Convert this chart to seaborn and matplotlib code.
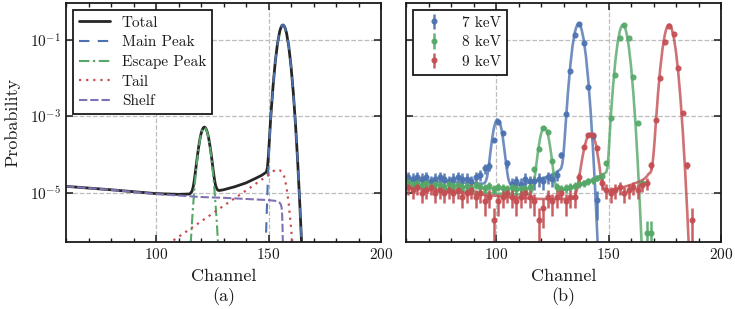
import numpy as np
import matplotlib
matplotlib.use("Agg")
import matplotlib.pyplot as plt
import seaborn as sns
from matplotlib.ticker import FixedLocator, MultipleLocator, NullLocator, LogFormatterMathtext

# ---------------- panel (a): 8 keV response model (log10 of probability) ----------------
total_ch = [60, 80, 100, 110, 115, 116, 116.5, 117, 117.5, 118, 118.5, 119, 119.5, 120, 120.5, 121,
            121.5, 122, 122.5, 123, 123.5, 124, 124.5, 125, 125.5, 126, 126.5, 127, 127.5, 128, 130,
            135, 140, 145, 147, 148, 149, 149.5, 150, 150.5, 151, 152, 153, 154, 155, 155.5, 156,
            156.5, 157, 157.5, 158, 159, 160, 161, 162, 163, 164, 164.5, 165, 166]
total_lg = [-4.83, -4.92, -5.02, -5.04, -5.03, -4.96, -4.85, -4.68, -4.46, -4.22, -3.99, -3.78, -3.60,
            -3.46, -3.36, -3.30, -3.28, -3.30, -3.36, -3.46, -3.60, -3.78, -3.98, -4.21, -4.45, -4.66,
            -4.81, -4.89, -4.93, -4.94, -4.92, -4.84, -4.74, -4.60, -4.54, -4.50, -4.46, -4.35, -4.00,
            -3.50, -3.01, -2.22, -1.57, -1.09, -0.77, -0.68, -0.62, -0.61, -0.64, -0.71, -0.82, -1.17,
            -1.69, -2.37, -3.21, -4.23, -5.41, -6.06, -6.75, -8.26]

main_ch = [147.5, 148.5, 149, 149.5, 150, 150.5, 151, 152, 153, 154, 155, 155.5, 156, 156.5, 157,
           157.5, 158, 159, 160, 161, 162, 163, 164, 164.5, 165, 166]
main_lg = [-8.0, -6.6, -5.9, -5.0, -4.2, -3.55, -3.03, -2.22, -1.57, -1.09, -0.77, -0.68, -0.62, -0.61,
           -0.64, -0.71, -0.82, -1.17, -1.69, -2.37, -3.21, -4.23, -5.41, -6.06, -6.75, -8.26]

escape_ch = [114, 115, 116, 116.5, 117, 117.5, 118, 118.5, 119, 119.5, 120, 120.5, 121, 121.5, 122,
             122.5, 123, 123.5, 124, 124.5, 125, 125.5, 126, 126.5, 127, 128, 129]
escape_lg = [-7.89, -6.74, -5.76, -5.33, -4.94, -4.60, -4.29, -4.03, -3.80, -3.62, -3.47, -3.37, -3.31,
             -3.29, -3.31, -3.37, -3.47, -3.62, -3.80, -4.03, -4.29, -4.60, -4.94, -5.33, -5.76, -6.74,
             -7.89]

tail_ch = [100, 110, 120, 130, 140, 150, 152, 153, 154, 155, 156, 157, 158, 159, 160, 161, 162]
tail_lg = [-6.56, -6.15, -5.75, -5.34, -4.94, -4.53, -4.44, -4.40, -4.39, -4.41, -4.46, -4.58, -4.85,
           -5.30, -5.90, -6.60, -7.40]

shelf_ch = [60, 80, 100, 110, 120, 130, 140, 150, 153, 154, 155, 155.5, 155.8, 156.0, 156.2, 156.4, 156.6]
shelf_lg = [-4.83, -4.92, -5.03, -5.07, -5.11, -5.13, -5.16, -5.19, -5.21, -5.22, -5.26, -5.31, -5.38,
            -5.50, -5.80, -6.40, -7.20]

# ---------------- panel (b): measured spectra (counts per 2-channel bin) ----------------
n_events = {"7 keV": 3.0e5, "8 keV": 1.1e6, "9 keV": 5.0e5}

ch_7kev = list(range(61, 146, 2))
counts_7kev = [8, 7, 8, 7, 8, 6, 7, 8, 7, 6, 7, 8, 7, 7, 6, 8, 9, 13, 15, 74, 212, 111, 18, 5, 6, 5,
               7, 6, 6, 7, 6, 8, 7, 9, 30, 344, 4540, 40300, 77000, 24400, 1730, 90, 2]

ch_8kev = list(range(61, 170, 2))
counts_8kev = [21, 19, 20, 18, 20, 17, 19, 18, 16, 19, 17, 18, 16, 17, 15, 18, 16, 15, 17, 14, 16, 15,
               14, 16, 14, 15, 14, 16, 45, 155, 560, 420, 74, 16, 14, 15, 16, 17, 19, 20, 22, 24, 27,
               31, 66, 1000, 13500, 126000, 270000, 121000, 11800, 745, 20, 1, 1]

ch_9kev = list(range(61, 188, 2))
counts_9kev = [7, 6, 7, 5, 6, 7, 5, 6, 5, 6, 5, 6, 4, 5, 6, 4, 5, 3, 4, 1, 3, 4, 5, 4, 3, 4, 5, 4, 3,
               1, 2, 4, 3, 4, 5, 3, 4, 4, 13, 77, 166, 166, 74, 9, 6, 5, 6, 7, 5, 6, 7, 6, 8, 9, 26,
               400, 4900, 43500, 116000, 70600, 9100, 615, 26, 1]

# fitted model curves for panel (b) (log10 of probability)
fit7_ch = [60, 80, 90, 94, 95, 95.5, 96, 96.5, 97, 97.5, 98, 98.5, 99, 99.5, 100, 100.5, 101, 101.5,
           102, 102.5, 103, 103.5, 104, 104.5, 105, 105.5, 106, 107, 110, 113, 116, 119, 122, 125, 127,
           128.5, 129, 129.5, 130, 130.5, 131, 132, 133, 134, 135, 135.5, 136, 136.5, 137, 137.5, 138,
           139, 140, 141, 142, 143, 144, 145, 145.5]
fit7_lg = [-4.68, -4.72, -4.75, -4.76, -4.74, -4.69, -4.59, -4.42, -4.19, -3.94, -3.71, -3.50, -3.33,
           -3.21, -3.12, -3.08, -3.09, -3.14, -3.23, -3.36, -3.55, -3.77, -4.00, -4.24, -4.47, -4.64,
           -4.73, -4.82, -4.80, -4.76, -4.71, -4.66, -4.60, -4.52, -4.46, -4.39, -4.35, -4.23, -3.97,
           -3.59, -3.16, -2.35, -1.68, -1.16, -0.81, -0.70, -0.62, -0.58, -0.59, -0.63, -0.72, -1.00,
           -1.45, -2.06, -2.83, -3.76, -4.84, -6.09, -6.78]

fit8_ch = total_ch
fit8_lg = total_lg

fit9_ch = [60, 80, 100, 110, 120, 130, 134, 135, 135.5, 136, 136.5, 137, 137.5, 138, 138.5, 139, 139.5,
           140, 140.5, 141, 141.5, 142, 142.5, 143, 143.5, 144, 144.5, 145, 145.5, 146, 146.5, 147,
           147.5, 148, 149, 150, 155, 160, 164, 166, 167, 168, 168.5, 169, 169.5, 170, 170.5, 171, 172,
           173, 174, 175, 175.5, 176, 176.5, 177, 177.5, 178, 179, 180, 181, 182, 183, 184, 185, 185.5,
           186]
fit9_lg = [-4.87, -4.98, -5.08, -5.13, -5.16, -5.16, -5.15, -5.09, -5.02, -4.91, -4.75, -4.58, -4.39,
           -4.21, -4.04, -3.89, -3.76, -3.65, -3.56, -3.50, -3.46, -3.45, -3.46, -3.50, -3.56, -3.65,
           -3.76, -3.95, -4.12, -4.32, -4.55, -4.72, -4.83, -4.89, -4.93, -4.94, -4.88, -4.79, -4.70,
           -4.63, -4.57, -4.49, -4.48, -4.42, -4.27, -3.99, -3.62, -3.19, -2.40, -1.74, -1.23, -0.87,
           -0.75, -0.66, -0.61, -0.60, -0.63, -0.69, -0.93, -1.32, -1.86, -2.55, -3.39, -4.38, -5.52,
           -6.15, -6.81]

x_ticks = [100, 150, 200]
y_ticks = [1e-5, 1e-3, 1e-1]

# ---------------- style ----------------
sns.set_theme(style="ticks", palette="deep")
plt.rcParams.update({
    "font.family": ["cmr10", "DejaVu Serif"],
    "mathtext.fontset": "cm",
    "axes.unicode_minus": False,
    "axes.formatter.use_mathtext": True,
    "axes.linewidth": 1.3,
    "xtick.direction": "in", "ytick.direction": "in",
    "xtick.top": True, "ytick.right": True,
    "xtick.major.size": 5, "ytick.major.size": 5,
    "xtick.minor.size": 3, "xtick.major.width": 1.1, "ytick.major.width": 1.1,
    "xtick.minor.width": 1.0,
    "xtick.labelsize": 11, "ytick.labelsize": 11,
    "axes.labelsize": 13,
    "legend.fontsize": 11,
    "text.color": "k", "axes.labelcolor": "k", "xtick.color": "k", "ytick.color": "k",
    "axes.edgecolor": "k",
})

pal = sns.color_palette("deep")
c_blue, c_green, c_red, c_purple = pal[0], pal[2], pal[3], pal[4]

fig = plt.figure(figsize=(7.35, 3.09), dpi=100)
ax1 = fig.add_axes([0.0898, 0.2168, 0.4286, 0.7735])
ax2 = fig.add_axes([0.5524, 0.2168, 0.4286, 0.7735])

P = lambda lg: 10.0 ** np.asarray(lg)

# panel (a)
sns.lineplot(x=total_ch, y=P(total_lg), ax=ax1, color="#262626", lw=2.0, label="Total",
             estimator=None, sort=False)
sns.lineplot(x=main_ch, y=P(main_lg), ax=ax1, color=c_blue, lw=1.5, label="Main Peak",
             estimator=None, sort=False, linestyle=(0, (5, 4)))
sns.lineplot(x=escape_ch, y=P(escape_lg), ax=ax1, color=c_green, lw=1.5, label="Escape Peak",
             estimator=None, sort=False, linestyle=(0, (5, 1.7, 1.1, 1.7)))
sns.lineplot(x=tail_ch, y=P(tail_lg), ax=ax1, color=c_red, lw=1.6, label="Tail",
             estimator=None, sort=False, linestyle=(0, (1, 2.2)))
sns.lineplot(x=shelf_ch, y=P(shelf_lg), ax=ax1, color=c_purple, lw=1.5, label="Shelf",
             estimator=None, sort=False, linestyle=(0, (4, 1.4)))

# panel (b)
series = [("7 keV", ch_7kev, counts_7kev, fit7_ch, fit7_lg, c_blue),
          ("8 keV", ch_8kev, counts_8kev, fit8_ch, fit8_lg, c_green),
          ("9 keV", ch_9kev, counts_9kev, fit9_ch, fit9_lg, c_red)]
for lab, ch, cnt, fch, flg, col in series:
    n = n_events[lab]
    cnt = np.asarray(cnt, float)
    y = cnt / n
    err = np.sqrt(cnt) / n
    ax2.errorbar(ch, y, yerr=err, fmt="o", ms=3.4, color=col, elinewidth=1.8, capsize=0,
                 label=lab, alpha=0.9)
    sns.lineplot(x=fch, y=P(flg), ax=ax2, color=col, lw=1.9, alpha=0.8, estimator=None, sort=False)

for ax, tag in [(ax1, "(a)"), (ax2, "(b)")]:
    ax.set_yscale("log")
    ax.set_xlim(60, 200)
    ax.set_ylim(10 ** -6.286, 10 ** -0.035)
    ax.xaxis.set_major_locator(FixedLocator(x_ticks))
    ax.xaxis.set_minor_locator(MultipleLocator(10))
    ax.yaxis.set_major_locator(FixedLocator(y_ticks))
    ax.yaxis.set_major_formatter(LogFormatterMathtext())
    ax.yaxis.set_minor_locator(NullLocator())
    ax.tick_params(which="both", top=True, right=True, direction="in")
    ax.grid(True, which="major", ls="--", color="#bdbdbd", lw=0.9)
    ax.set_axisbelow(True)
    ax.set_xlabel("Channel\n" + tag, linespacing=1.2, labelpad=5)
    for s in ax.spines.values():
        s.set_linewidth(1.3)

ax1.set_ylabel("Probability", labelpad=7)
ax2.set_ylabel("")
ax2.tick_params(labelleft=False)

leg1 = ax1.legend(loc="upper left", frameon=True, fancybox=False, framealpha=1, edgecolor="k",
                  handlelength=2.0, handletextpad=0.8, borderpad=0.4, labelspacing=0.38,
                  borderaxespad=0.45)
leg1.get_frame().set_linewidth(1.3)
h, l = ax2.get_legend_handles_labels()
leg2 = ax2.legend(h[:3], l[:3], loc="upper left", frameon=True, fancybox=False, framealpha=1,
                  edgecolor="k", handlelength=2.0, handletextpad=0.8, borderpad=0.4,
                  labelspacing=0.38, borderaxespad=0.45)
leg2.get_frame().set_linewidth(1.3)

fig.savefig("out.png", dpi=100)
